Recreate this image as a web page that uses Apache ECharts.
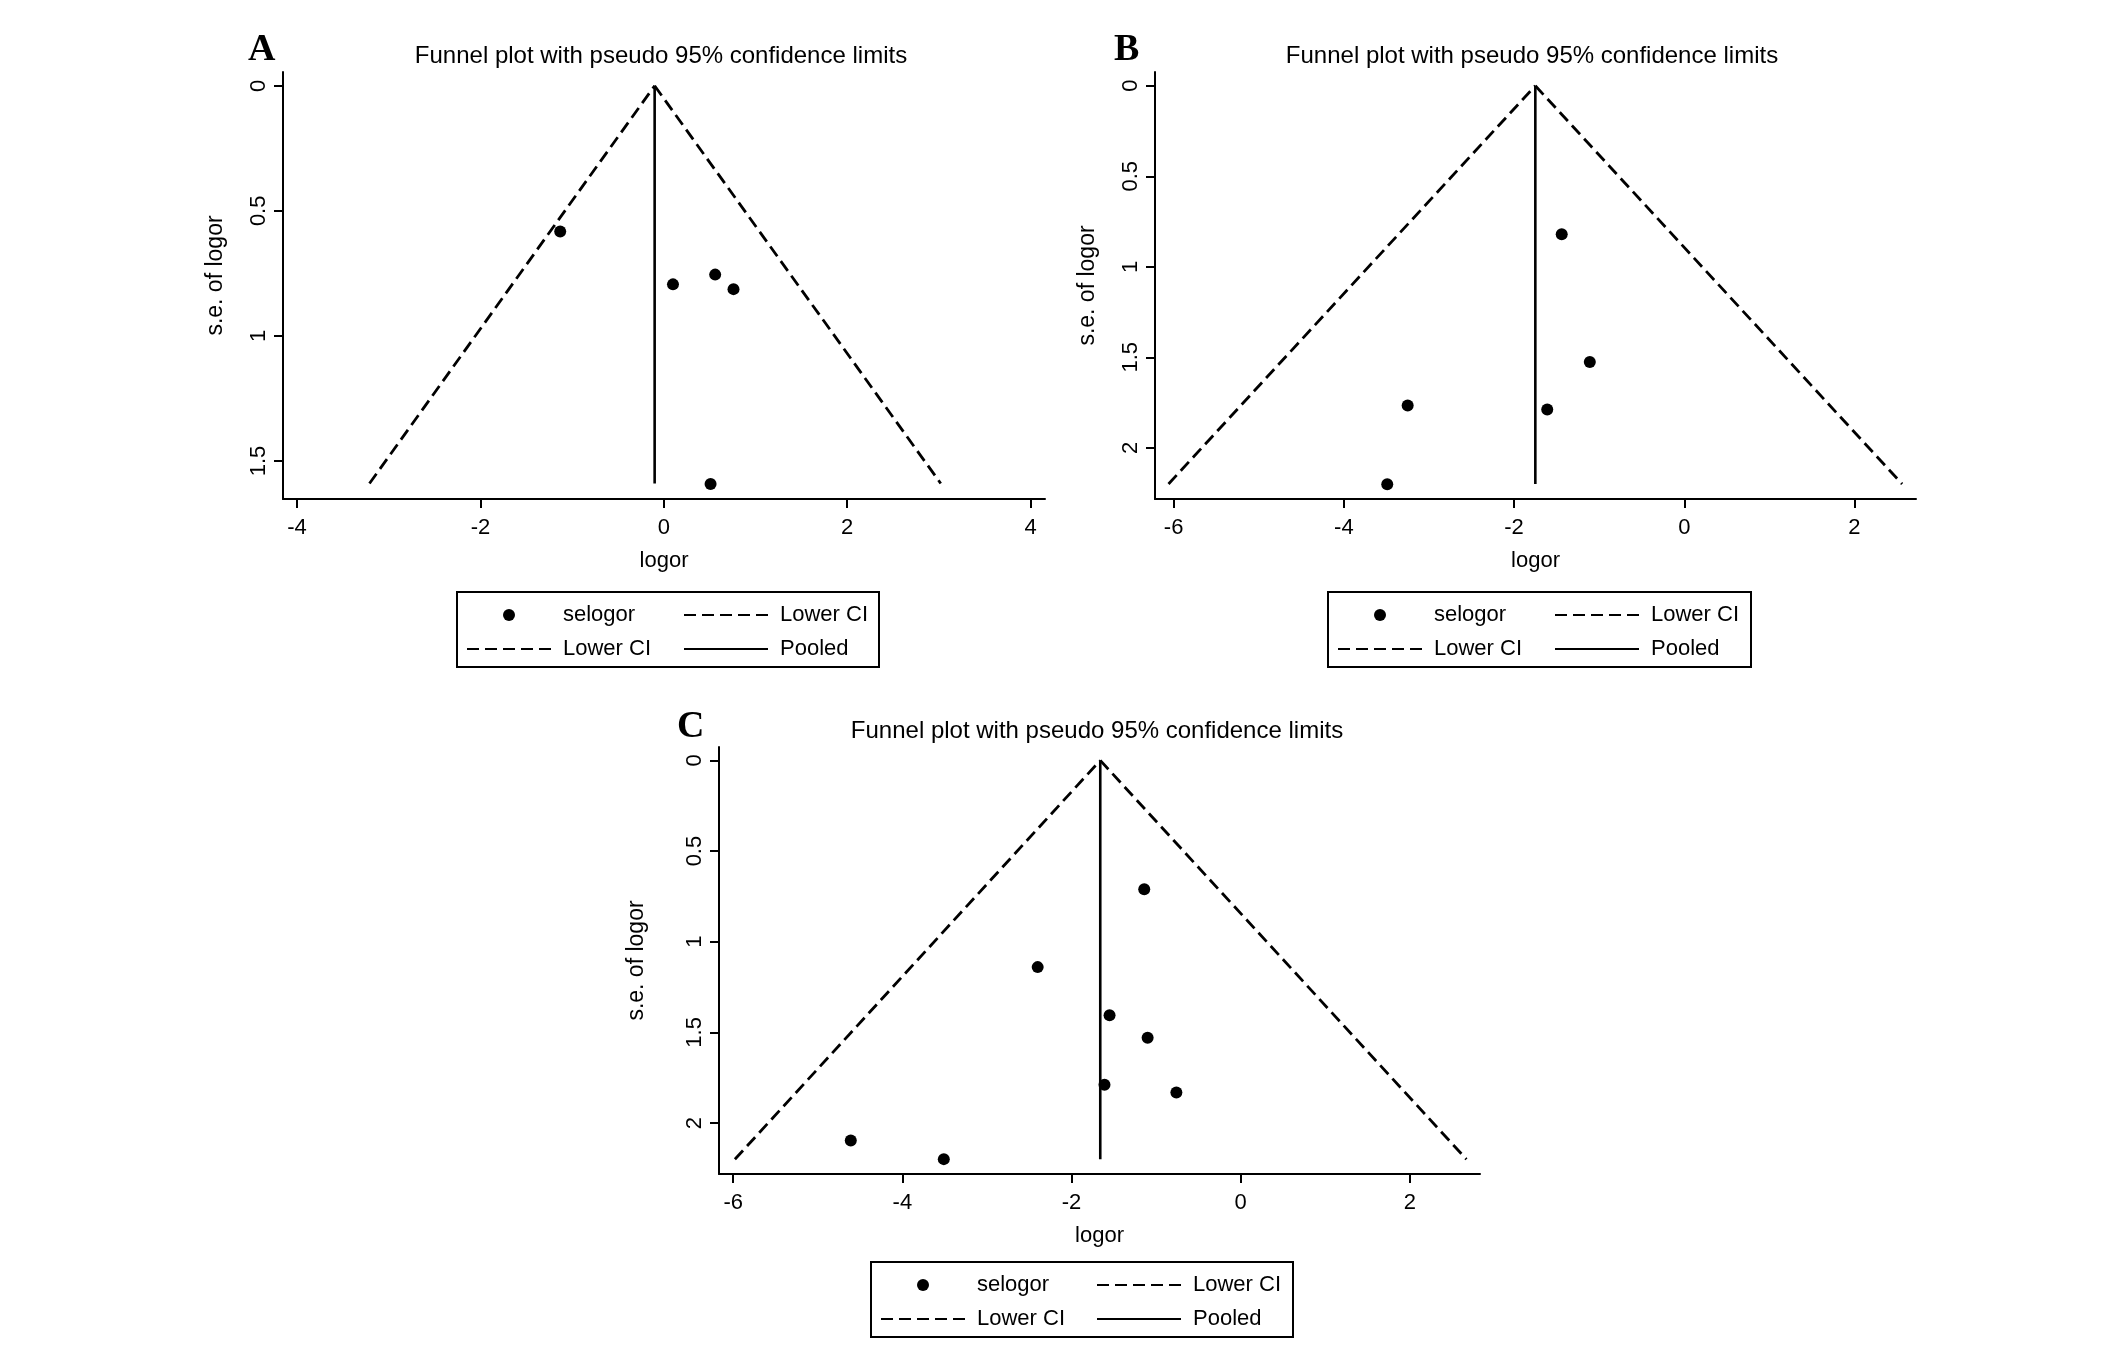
<!DOCTYPE html>
<html>
<head>
<meta charset="utf-8">
<script src="https://cdn.jsdelivr.net/npm/echarts@6/dist/echarts.min.js"></script>
<style>
html,body{margin:0;padding:0;background:#fff;}
#chart{width:2126px;height:1361px;}
</style>
</head>
<body>
<div id="chart"></div>
<script>
// ---- Data ----
// Panel A
const logorA   = [-1.13, 0.10, 0.56, 0.76, 0.51];
const selogorA = [0.583, 0.794, 0.755, 0.813, 1.592];
const pooledA  = -0.10;
const seMaxA   = 1.59;
const ciLeftA  = -3.21;
const ciRightA = 3.02;
// Panel B
const logorB   = [-1.44, -1.11, -3.25, -1.61, -3.49];
const selogorB = [0.820, 1.526, 1.767, 1.789, 2.201];
const pooledB  = -1.75;
const seMaxB   = 2.20;
const ciLeftB  = -6.06;
const ciRightB = 2.56;
// Panel C
const logorC   = [-1.14, -2.40, -1.55, -1.10, -1.61, -0.76, -4.61, -3.51];
const selogorC = [0.711, 1.140, 1.405, 1.529, 1.789, 1.832, 2.096, 2.199];
const pooledC  = -1.66;
const seMaxC   = 2.20;
const ciLeftC  = -5.98;
const ciRightC = 2.67;
// Tick labels
const xTicksA = [-4, -2, 0, 2, 4];
const yTicksA = [0, 0.5, 1, 1.5];
const xTicksBC = [-6, -4, -2, 0, 2];
const yTicksBC = [0, 0.5, 1, 1.5, 2];
// Texts
const titleText = 'Funnel plot with pseudo 95% confidence limits';
const panelLetters = ['A', 'B', 'C'];
const legendNames = ['selogor', 'Lower CI', 'Pooled'];

const FONT = "'Liberation Sans', Arial, sans-serif";
const BLACK = '#000';
const DASH = [12, 6];
const NOSYM = {color:'transparent', borderColor:'transparent', borderWidth:0};

// ---- Layout ----
const panels = [
  {grid:{left:283, top:72, width:762, height:427}, xr:[-4.153,4.157], yr:[-0.055,1.652],
   xt:xTicksA, yt:yTicksA, title:{x:661, y:44}, letter:{x:248, y:50},
   yNameGap:56, yNamePad:[0,0,0,20], legend:{box:[457,592,422,75], c1:466, c2:683, top:604},
   logor:logorA, se:selogorA, pooled:pooledA, seMax:seMaxA, cl:ciLeftA, cr:ciRightA},
  {grid:{left:1155, top:72, width:761, height:427}, xr:[-6.219,2.723], yr:[-0.076,2.283],
   xt:xTicksBC, yt:yTicksBC, title:{x:1532, y:44}, letter:{x:1114, y:50},
   yNameGap:56, yNamePad:0, legend:{box:[1328,592,423,75], c1:1337, c2:1554, top:604},
   logor:logorB, se:selogorB, pooled:pooledB, seMax:seMaxB, cl:ciLeftB, cr:ciRightB},
  {grid:{left:719, top:747, width:761, height:427}, xr:[-6.168,2.83], yr:[-0.074,2.281],
   xt:xTicksBC, yt:yTicksBC, title:{x:1097, y:719}, letter:{x:677, y:727},
   yNameGap:71, yNamePad:0, legend:{box:[871,1262,422,75], c1:880, c2:1096, top:1274},
   logor:logorC, se:selogorC, pooled:pooledC, seMax:seMaxC, cl:ciLeftC, cr:ciRightC}
];

const grids = [], xAxes = [], yAxes = [], series = [], titles = [], legends = [], graphics = [];

panels.forEach((p, i) => {
  grids.push(Object.assign({outerBoundsMode:'none', containLabel:false, show:false}, p.grid));
  xAxes.push({
    type:'value', gridIndex:i, min:p.xr[0], max:p.xr[1],
    name:'logor', nameLocation:'middle', nameGap:51,
    nameTextStyle:{fontFamily:FONT, fontSize:22, color:BLACK},
    axisLine:{onZero:false, lineStyle:{color:BLACK, width:2}},
    axisTick:{show:true, length:9, lineStyle:{color:BLACK, width:2}, customValues:p.xt},
    axisLabel:{fontFamily:FONT, fontSize:22, color:BLACK, margin:18, customValues:p.xt},
    splitLine:{show:false}
  });
  yAxes.push({
    type:'value', gridIndex:i, min:p.yr[0], max:p.yr[1], inverse:true,
    name:'s.e. of logor', nameLocation:'middle', nameGap:p.yNameGap,
    nameTextStyle:{fontFamily:FONT, fontSize:23, color:BLACK, padding:p.yNamePad},
    axisLine:{onZero:false, lineStyle:{color:BLACK, width:2}},
    axisTick:{show:true, length:9, lineStyle:{color:BLACK, width:2}, customValues:p.yt},
    axisLabel:{fontFamily:FONT, fontSize:22, color:BLACK, margin:13, rotate:90, customValues:p.yt},
    splitLine:{show:false}
  });
  series.push({
    type:'scatter', name:'selogor', xAxisIndex:i, yAxisIndex:i,
    data:p.logor.map((v, k) => [v, p.se[k]]),
    symbol:'circle', symbolSize:12, itemStyle:{color:BLACK, opacity:1}, z:5
  });
  series.push({
    type:'line', name:'Lower CI', xAxisIndex:i, yAxisIndex:i,
    data:[[p.cl, p.seMax], [p.pooled, 0]], symbol:'none',
    lineStyle:{color:BLACK, width:2.8, type:DASH}, itemStyle:NOSYM
  });
  series.push({
    type:'line', name:'Lower CI', xAxisIndex:i, yAxisIndex:i,
    data:[[p.pooled, 0], [p.cr, p.seMax]], symbol:'none',
    lineStyle:{color:BLACK, width:2.8, type:DASH}, itemStyle:NOSYM
  });
  series.push({
    type:'line', name:'Pooled', xAxisIndex:i, yAxisIndex:i,
    data:[[p.pooled, 0], [p.pooled, p.seMax]], symbol:'none',
    lineStyle:{color:BLACK, width:2.6, type:'solid'}, itemStyle:NOSYM
  });
  titles.push({
    text:titleText, left:p.title.x, top:p.title.y, textAlign:'center', padding:0,
    textStyle:{fontFamily:FONT, fontSize:24, fontWeight:'normal', color:BLACK}
  });
  const legCommon = {
    orient:'vertical', top:p.legend.top, padding:0, itemGap:12,
    itemWidth:84, itemHeight:12, selectedMode:false,
    textStyle:{fontFamily:FONT, fontSize:22, color:BLACK, lineHeight:22, padding:[0,0,0,7]}
  };
  legends.push(Object.assign({}, legCommon, {left:p.legend.c1,
    data:[{name:legendNames[0], icon:'circle'}, {name:legendNames[1]}]}));
  legends.push(Object.assign({}, legCommon, {left:p.legend.c2,
    data:[{name:legendNames[1]}, {name:legendNames[2]}]}));
  const b = p.legend.box;
  graphics.push({
    type:'rect', shape:{x:b[0], y:b[1], width:b[2], height:b[3]},
    style:{fill:'none', stroke:BLACK, lineWidth:2}, silent:true
  });
  graphics.push({
    type:'text', x:p.letter.x, y:p.letter.y,
    style:{text:panelLetters[i], font:"bold 38px 'Liberation Serif', 'Times New Roman', serif",
      fill:BLACK, align:'left', verticalAlign:'middle'}, silent:true
  });
});

const chart = echarts.init(document.getElementById('chart'), null, {renderer:'canvas'});
chart.setOption({
  backgroundColor:'#fff',
  animation:false,
  title:titles,
  grid:grids,
  xAxis:xAxes,
  yAxis:yAxes,
  legend:legends,
  series:series,
  graphic:graphics
});
</script>
</body>
</html>
